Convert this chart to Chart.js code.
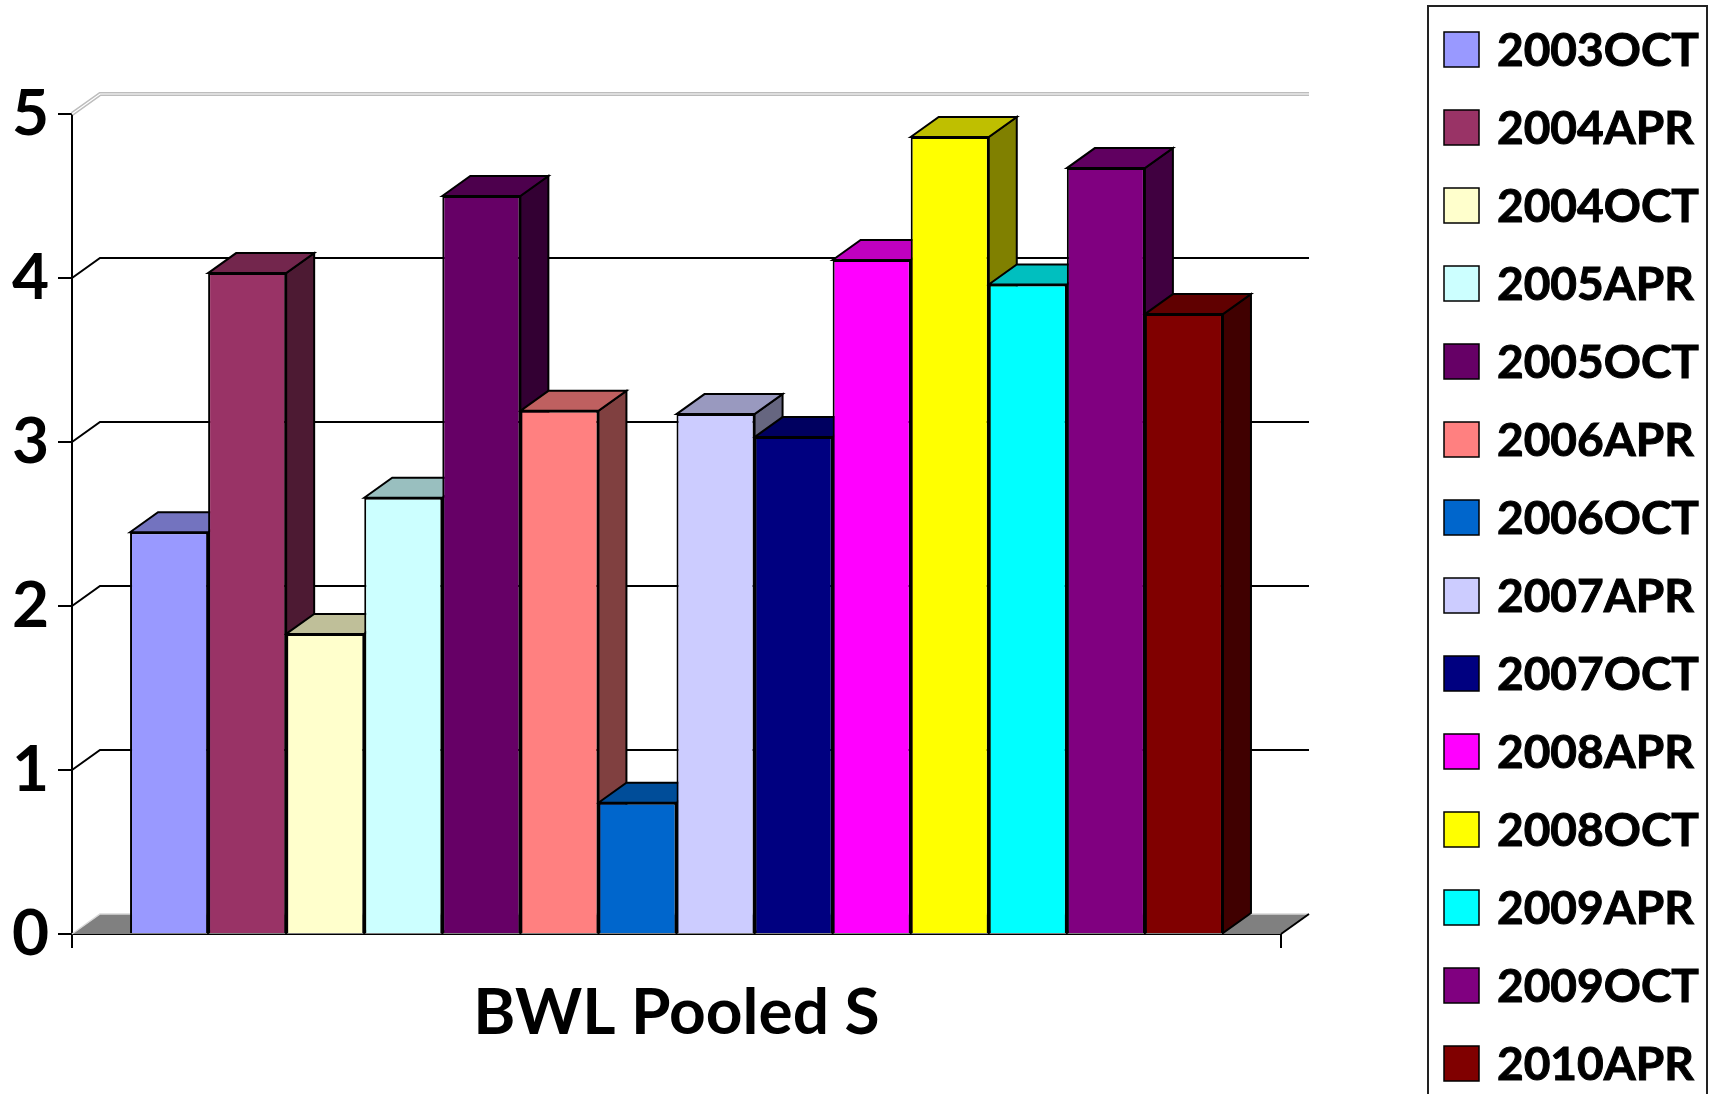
<!DOCTYPE html>
<html>
<head>
<meta charset="utf-8">
<script src="https://cdn.jsdelivr.net/npm/chart.js@4.4.0/dist/chart.umd.min.js"></script>
<style>
  html, body { margin: 0; padding: 0; background: #fff; overflow: hidden; }
  #wrap { width: 1711px; height: 1094px; position: relative; }
</style>
</head>
<body>
<div id="wrap"><canvas id="chart" width="1711" height="1094"></canvas></div>
<script>
// Données du graphique
const categories = ['BWL Pooled S'];
const seriesNames = ['2003OCT', '2004APR', '2004OCT', '2005APR', '2005OCT', '2006APR', '2006OCT',
  '2007APR', '2007OCT', '2008APR', '2008OCT', '2009APR', '2009OCT', '2010APR'];
const seriesValues = [2.45, 4.03, 1.83, 2.66, 4.50, 3.19, 0.80, 3.17, 3.03, 4.11, 4.86, 3.96, 4.67, 3.78];
const seriesColors = ['#9999FF', '#993366', '#FFFFCC', '#CCFFFF', '#660066', '#FF8080', '#0066CC',
  '#CCCCFF', '#000080', '#FF00FF', '#FFFF00', '#00FFFF', '#800080', '#800000'];
const yTicks = [0, 1, 2, 3, 4, 5];

// profondeur de l'effet 3D (px)
const DX = 28, DY = 20;
const FONT = 'Lato, "Open Sans", sans-serif';

function shade(hex, f) {
  const n = parseInt(hex.slice(1), 16);
  const r = Math.round(((n >> 16) & 255) * f);
  const g = Math.round(((n >> 8) & 255) * f);
  const b = Math.round((n & 255) * f);
  return `rgb(${r},${g},${b})`;
}

// Mur du fond, sol et faces latérales/supérieures des barres
const bars3d = {
  id: 'bars3d',
  beforeDatasetsDraw(chart) {
    const ctx = chart.ctx;
    const { left, right } = chart.chartArea;
    const y = chart.scales.y;
    ctx.save();
    // lignes de grille du mur du fond
    yTicks.forEach(v => {
      const py = y.getPixelForValue(v);
      if (v === 0) return;
      if (v === yTicks[yTicks.length - 1]) {
        ctx.strokeStyle = '#bdbdbd';
        ctx.lineWidth = 4;
        ctx.beginPath();
        ctx.moveTo(left, py); ctx.lineTo(left + DX, py - DY); ctx.lineTo(right + DX, py - DY);
        ctx.stroke();
        ctx.strokeStyle = '#ffffff';
        ctx.lineWidth = 1.2;
        ctx.stroke();
      } else {
        ctx.strokeStyle = '#000';
        ctx.lineWidth = 2;
        ctx.beginPath();
        ctx.moveTo(left, py); ctx.lineTo(left + DX, py - DY); ctx.lineTo(right + DX, py - DY);
        ctx.stroke();
      }
    });
    // sol
    const p0 = y.getPixelForValue(0);
    ctx.fillStyle = '#808080';
    ctx.beginPath();
    ctx.moveTo(left, p0); ctx.lineTo(right, p0); ctx.lineTo(right + DX, p0 - DY); ctx.lineTo(left + DX, p0 - DY);
    ctx.closePath();
    ctx.fill();
    ctx.strokeStyle = '#d8d8d8';
    ctx.lineWidth = 1.5;
    ctx.beginPath();
    ctx.moveTo(left, p0); ctx.lineTo(left + DX, p0 - DY); ctx.lineTo(right + DX, p0 - DY);
    ctx.stroke();
    ctx.strokeStyle = '#000';
    ctx.lineWidth = 2;
    ctx.beginPath();
    ctx.moveTo(right, p0); ctx.lineTo(right + DX, p0 - DY);
    ctx.stroke();

    // côtés et dessus de chaque barre, de gauche à droite
    ctx.lineJoin = 'miter';
    chart.data.datasets.forEach((ds, i) => {
      const bar = chart.getDatasetMeta(i).data[0];
      const l = bar.x - bar.width / 2, r = bar.x + bar.width / 2;
      const t = bar.y, b = bar.base;
      ctx.lineWidth = 2;
      ctx.strokeStyle = '#000';
      // côté
      ctx.fillStyle = shade(ds.backgroundColor, 0.5);
      ctx.beginPath();
      ctx.moveTo(r, t); ctx.lineTo(r + DX, t - DY); ctx.lineTo(r + DX, b - DY); ctx.lineTo(r, b);
      ctx.closePath();
      ctx.fill(); ctx.stroke();
      // dessus
      ctx.fillStyle = shade(ds.backgroundColor, 0.75);
      ctx.beginPath();
      ctx.moveTo(l, t); ctx.lineTo(l + DX, t - DY); ctx.lineTo(r + DX, t - DY); ctx.lineTo(r, t);
      ctx.closePath();
      ctx.fill(); ctx.stroke();
    });
    ctx.restore();
  }
};

// Légende encadrée à droite
const boxLegend = {
  id: 'boxLegend',
  afterDraw(chart) {
    const ctx = chart.ctx;
    ctx.save();
    ctx.strokeStyle = '#222';
    ctx.lineWidth = 2;
    ctx.strokeRect(1428, 6, 279, 1100);
    ctx.font = `bold 46px ${FONT}`;
    ctx.textBaseline = 'middle';
    chart.data.datasets.forEach((ds, i) => {
      const top = 32 + i * 78;
      ctx.fillStyle = ds.backgroundColor;
      ctx.fillRect(1444, top, 35, 35);
      ctx.strokeStyle = '#000';
      ctx.lineWidth = 1.5;
      ctx.strokeRect(1444, top, 35, 35);
      ctx.fillStyle = '#000';
      ctx.strokeStyle = '#000';
      ctx.lineWidth = 1;
      ctx.fillText(ds.label, 1497, top + 19);
      ctx.strokeText(ds.label, 1497, top + 19);
    });
    ctx.restore();
  }
};

new Chart(document.getElementById('chart').getContext('2d'), {
  type: 'bar',
  data: {
    labels: categories,
    datasets: seriesNames.map((name, i) => ({
      label: name,
      data: [seriesValues[i]],
      backgroundColor: seriesColors[i],
      borderColor: '#000',
      borderWidth: 2
    }))
  },
  options: {
    responsive: false,
    animation: false,
    devicePixelRatio: 1,
    layout: { padding: { top: 114, right: 430, left: 0, bottom: 0 } },
    categoryPercentage: 0.904,
    barPercentage: 1,
    plugins: { legend: { display: false }, tooltip: { enabled: false } },
    scales: {
      x: {
        afterFit: s => { s.height = 160; },
        grid: { drawOnChartArea: false, tickLength: 14, color: '#000', lineWidth: 2, offset: true },
        border: { color: '#000', width: 2 },
        ticks: { color: '#000', padding: 27, font: { family: FONT, weight: 'bold', size: 64 } }
      },
      y: {
        min: 0, max: 5,
        afterFit: s => { s.width = 72; },
        afterBuildTicks: s => { s.ticks = yTicks.map(v => ({ value: v })); },
        grid: { drawOnChartArea: false, tickLength: 14, color: '#000', lineWidth: 2 },
        border: { color: '#000', width: 2 },
        ticks: { color: '#000', padding: 9, font: { family: FONT, weight: 'bold', size: 64 } }
      }
    }
  },
  plugins: [bars3d, boxLegend]
});
</script>
</body>
</html>
